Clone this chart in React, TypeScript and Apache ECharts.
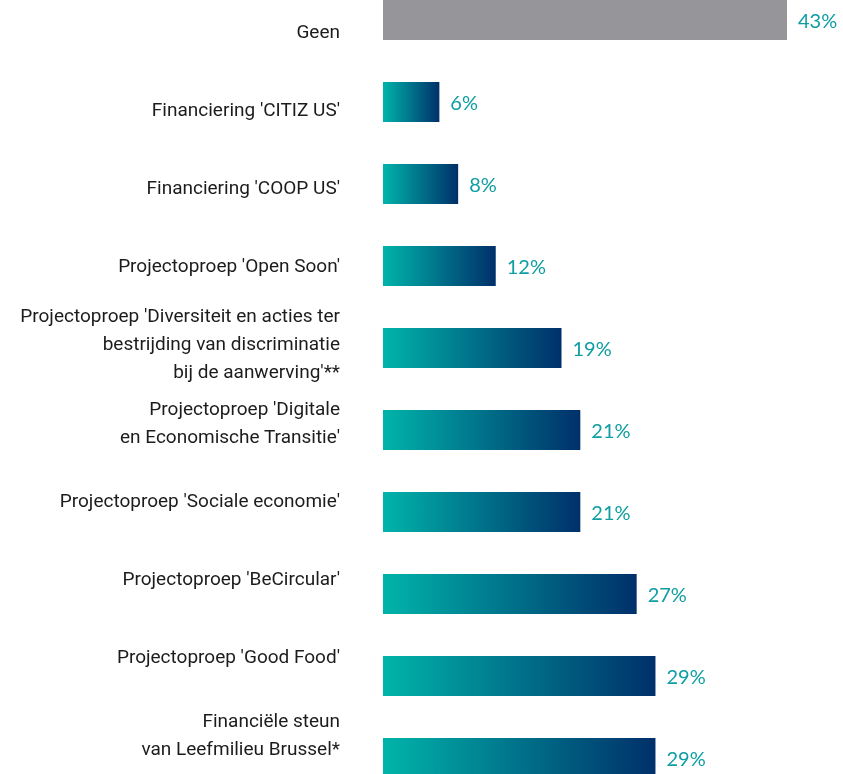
import React, { useEffect, useRef } from "react";
import * as echarts from "echarts";

const categories = [
  "Geen",
  "Financiering 'CITIZ US'",
  "Financiering 'COOP US'",
  "Projectoproep 'Open Soon'",
  "Projectoproep 'Diversiteit en acties ter\nbestrijding van discriminatie\nbij de aanwerving'**",
  "Projectoproep 'Digitale\nen Economische Transitie'",
  "Projectoproep 'Sociale economie'",
  "Projectoproep 'BeCircular'",
  "Projectoproep 'Good Food'",
  "Financiële steun\nvan Leefmilieu Brussel*",
];
const values = [43, 6, 8, 12, 19, 21, 21, 27, 29, 29];

export default function App() {
  const ref = useRef<HTMLDivElement>(null);
  useEffect(() => {
    if (!ref.current) return;
    const chart = echarts.init(ref.current, undefined, { renderer: "svg" });
    const grad = new echarts.graphic.LinearGradient(0, 0, 1, 0, [
      { offset: 0, color: "#00b4aa" },
      { offset: 1, color: "#00306a" },
    ]);
    chart.setOption({
      animation: false,
      grid: [
        // bars
        { left: 383, right: 56, top: -21, bottom: -25, outerBoundsMode: "none", containLabel: false },
        // category labels (slightly different vertical rhythm)
        { left: 383, right: 56, top: -8, bottom: 0, outerBoundsMode: "none", containLabel: false },
      ],
      xAxis: [
        { type: "value", min: 0, max: 43, show: false, gridIndex: 0 },
        { type: "value", min: 0, max: 43, show: false, gridIndex: 1 },
      ],
      yAxis: [
        {
          type: "category",
          gridIndex: 0,
          inverse: true,
          data: categories,
          axisLine: { show: false },
          axisTick: { show: false },
          splitLine: { show: false },
          axisLabel: { show: false },
        },
        {
          type: "category",
          gridIndex: 1,
          inverse: true,
          data: categories,
          axisLine: { show: false },
          axisTick: { show: false },
          splitLine: { show: false },
          axisLabel: {
            interval: 0,
            margin: 43,
            fontFamily: "Roboto",
            fontSize: 19,
            lineHeight: 28,
            color: "#1c1c1c",
            align: "right",
          },
        },
      ],
      series: [
        {
          type: "bar",
          xAxisIndex: 0,
          yAxisIndex: 0,
          barWidth: 40,
          data: values.map((v, i) => ({
            value: v,
            itemStyle: { color: i === 0 ? "#96959a" : grad },
          })),
          label: {
            show: true,
            position: "right",
            distance: 11,
            formatter: (p: any) => p.value + "%",
            fontFamily: "Lato",
            fontSize: 20,
            color: "#0e9ea3",
          },
        },
      ],
    });
    return () => chart.dispose();
  }, []);
  return (
    <div
      ref={ref}
      style={{ position: "fixed", left: 0, top: 0, width: 843, height: 774 }}
    />
  );
}
